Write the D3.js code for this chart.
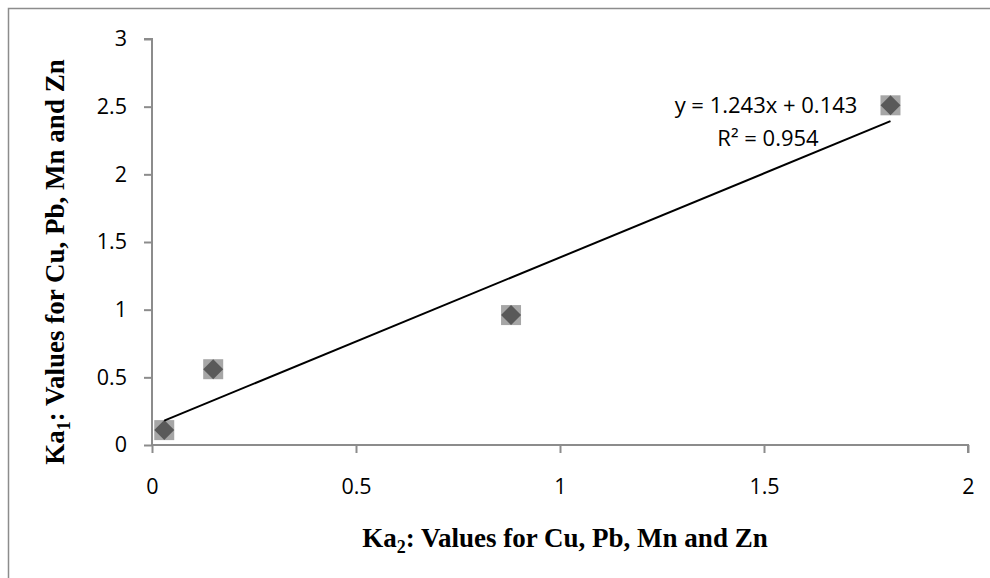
<!DOCTYPE html>
<html>
<head>
<meta charset="utf-8">
<script src="https://cdn.jsdelivr.net/npm/d3@7"></script>
<style>
  html, body { margin: 0; padding: 0; background: #fff; }
  svg { display: block; }
</style>
</head>
<body>
<svg id="chart"></svg>
<script>
// values
const ka2 = [0.03, 0.15, 0.88, 1.81]
const ka1 = [0.11, 0.56, 0.96, 2.51]
const xTicks = [0, 0.5, 1, 1.5, 2]
const yTicks = [0, 0.5, 1, 1.5, 2, 2.5, 3]
const slope = 1.243
const intercept = 0.143
const rSquared = 0.954

const width = 990
const height = 578

const svg = d3.select('#chart')
  .attr('width', width)
  .attr('height', height)

// outer chart frame (only left and top edges show)
svg.append('rect')
  .attr('x', 8.5).attr('y', 8.5)
  .attr('width', 1100).attr('height', 700)
  .attr('fill', 'none')
  .attr('stroke', '#8c8c8c')
  .attr('stroke-width', 1.5)

const x = d3.scaleLinear().domain([0, 2]).range([152, 968])
const y = d3.scaleLinear().domain([0, 3]).range([445, 39])

const tickFont = '"Open Sans", sans-serif'
const tickSize = '21.5px'

// y axis
const yAxis = svg.append('g')
  .attr('transform', `translate(${x(0)},0)`)
  .call(d3.axisLeft(y).tickValues(yTicks).tickSize(8).tickPadding(17)
    .tickFormat(d => d3.format('')(d)))
yAxis.select('.domain').attr('stroke', '#8c8c8c').attr('stroke-width', 2)
  .attr('d', `M-8,${y(3)}H0V${y(0)}`)
yAxis.selectAll('.tick line').attr('stroke', '#8c8c8c').attr('stroke-width', 2)
yAxis.selectAll('.tick text')
  .attr('fill', '#000')
  .attr('font-family', tickFont)
  .attr('font-size', tickSize)

// x axis
const xAxis = svg.append('g')
  .attr('transform', `translate(0,${y(0)})`)
  .call(d3.axisBottom(x).tickValues(xTicks).tickSize(8).tickPadding(26)
    .tickFormat(d => d3.format('')(d)))
xAxis.select('.domain').attr('stroke', '#8c8c8c').attr('stroke-width', 2)
  .attr('d', `M${x(0)},0H${x(2)}V8`)
xAxis.selectAll('.tick line').attr('stroke', '#8c8c8c').attr('stroke-width', 2)
xAxis.selectAll('.tick text')
  .attr('fill', '#000')
  .attr('font-family', tickFont)
  .attr('font-size', tickSize)

// markers: light square behind a dark diamond
const pts = ka2.map((v, i) => ({ x: v, y: ka1[i] }))
const marks = svg.append('g').selectAll('g')
  .data(pts)
  .enter().append('g')
  .attr('transform', d => `translate(${x(d.x)},${y(d.y)})`)

marks.append('rect')
  .attr('x', -10).attr('y', -10)
  .attr('width', 20).attr('height', 20)
  .attr('fill', '#a6a6a6')

marks.append('path')
  .attr('d', 'M0,-10L10,0L0,10L-10,0Z')
  .attr('fill', '#595959')

// linear trendline across the data range
const xMin = d3.min(ka2)
const xMax = d3.max(ka2)
svg.append('line')
  .attr('x1', x(xMin)).attr('y1', y(slope * xMin + intercept))
  .attr('x2', x(xMax)).attr('y2', y(slope * xMax + intercept))
  .attr('stroke', '#000')
  .attr('stroke-width', 2)

// trendline label
const eq = svg.append('text')
  .attr('font-family', tickFont)
  .attr('font-size', '22px')
  .attr('fill', '#000')
  .attr('text-anchor', 'middle')
eq.append('tspan').attr('x', 766).attr('y', 113)
  .text(`y = ${slope}x + ${intercept}`)
eq.append('tspan').attr('x', 768).attr('y', 146)
  .text(`R² = ${rSquared}`)

// axis titles
const titleFont = '"Liberation Serif", "Times New Roman", serif'

const xTitle = svg.append('text')
  .attr('x', 565).attr('y', 547)
  .attr('text-anchor', 'middle')
  .attr('font-family', titleFont)
  .attr('font-weight', 'bold')
  .attr('font-size', '27px')
  .attr('fill', '#000')
xTitle.append('tspan').text('Ka')
xTitle.append('tspan').attr('font-size', '18px').attr('dy', 6).text('2')
xTitle.append('tspan').attr('dy', -6).text(': Values for Cu, Pb, Mn and Zn')

const yTitle = svg.append('text')
  .attr('transform', 'translate(64,262) rotate(-90)')
  .attr('text-anchor', 'middle')
  .attr('font-family', titleFont)
  .attr('font-weight', 'bold')
  .attr('font-size', '27px')
  .attr('fill', '#000')
yTitle.append('tspan').text('Ka')
yTitle.append('tspan').attr('font-size', '18px').attr('dy', 6).text('1')
yTitle.append('tspan').attr('dy', -6).text(': Values for Cu, Pb, Mn and Zn')
</script>
</body>
</html>
